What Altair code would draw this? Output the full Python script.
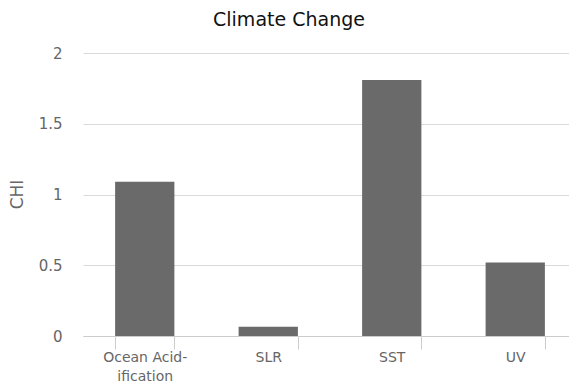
import altair as alt
import pandas as pd

categories = ["Ocean Acidification", "SLR", "SST", "UV"]
labels = ["Ocean Acid-\nification", "SLR", "SST", "UV"]
values = [1.09, 0.066, 1.81, 0.52]

df = pd.DataFrame({"cat": labels, "chi": values})

font = "DejaVu Sans"

chart = alt.Chart(df).mark_bar(color="#6a6a6a").encode(
    x=alt.X("cat:N", sort=labels, title=None,
            scale=alt.Scale(paddingInner=0.52, paddingOuter=0.26),
            axis=alt.Axis(labelAngle=0, tickBand="extent", tickSize=13,
                          tickColor="#cccccc", domainColor="#cccccc",
                          labelColor="#666666", labelFont=font, labelFontSize=14,
                          labelPadding=1, labelLineHeight=19,
                          labelExpr="split(datum.label, '\\n')",
                          labelBaseline="top")),
    y=alt.Y("chi:Q", title="CHI",
            scale=alt.Scale(domain=[0, 2]),
            axis=alt.Axis(values=[0, 0.5, 1, 1.5, 2], format="~g", grid=True,
                          gridColor="#d9d9d9",
                          domain=False, ticks=False, labelPadding=21,
                          labelColor="#666666", labelFont=font, labelFontSize=15,
                          titleColor="#666666", titleFont=font, titleFontSize=17,
                          titleFontWeight="normal", titleX=-66, titleY=141,
                          titleAngle=-90, titleAlign="center", titleBaseline="middle")),
).properties(
    width=494, height=283,
    title=alt.TitleParams("Climate Change", font=font, fontSize=19, fontWeight="normal",
                          color="#111111", anchor="middle", dx=-41, dy=26, offset=27,
                          baseline="alphabetic"),
    autosize=alt.AutoSizeParams(type="none"),
    padding={"left": 75, "top": 45, "right": -8, "bottom": 46},
).configure_view(stroke=None)

chart.save("out.html", embed_options={"renderer": "svg", "actions": False})
